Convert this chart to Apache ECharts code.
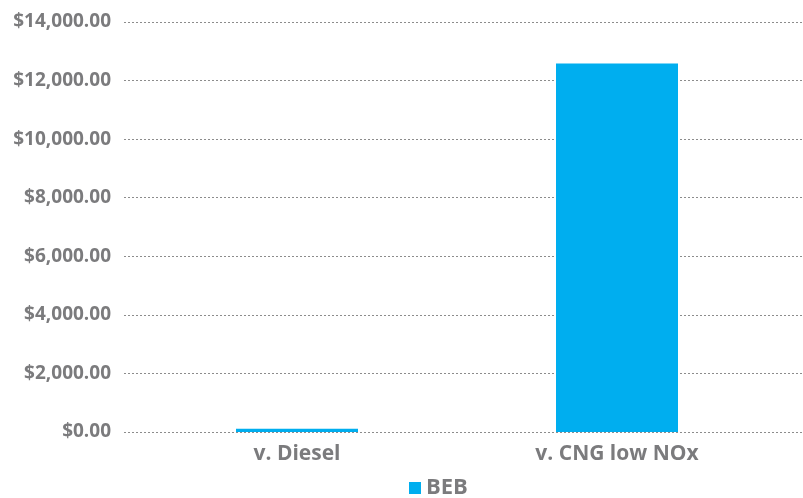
<!DOCTYPE html>
<html>
<head>
<meta charset="utf-8">
<script src="https://cdn.jsdelivr.net/npm/echarts@6/dist/echarts.min.js"></script>
<style>
  html, body { margin: 0; padding: 0; background: #fff; }
  #chart { width: 803px; height: 498px; }
</style>
</head>
<body>
<div id="chart"></div>
<script>
// Cost difference per bus, battery-electric bus (BEB) against two baselines
const categories = ['v. Diesel', 'v. CNG low NOx'];
const bebValues = [110, 12580];
const seriesName = 'BEB';
const yMin = 0;
const yMax = 14000;
const yInterval = 2000;

const textGray = '#7b7b7d';
const barBlue = '#00aeef';
const fontFamily = '"Open Sans", Lato, sans-serif';

const chart = echarts.init(document.getElementById('chart'));

chart.setOption({
  animation: false,
  backgroundColor: '#fff',
  legend: {
    data: [seriesName],
    top: 472,
    left: 404,
    itemWidth: 12,
    itemHeight: 12,
    itemGap: 8,
    icon: 'rect',
    textStyle: { color: textGray, fontSize: 22, fontWeight: 'bold', fontFamily: fontFamily }
  },
  grid: [
    // value scale with dotted gridlines across the full width
    { left: 124, right: 1, top: 22, bottom: 66 },
    // bar area
    { left: 137, right: 26, top: 22, bottom: 66 }
  ],
  xAxis: [
    { gridIndex: 0, type: 'category', data: categories, show: false },
    {
      gridIndex: 1,
      type: 'category',
      data: categories,
      axisLine: { show: false },
      axisTick: { show: false },
      axisLabel: {
        color: textGray,
        fontSize: 21,
        fontWeight: 'bold',
        fontFamily: fontFamily,
        margin: 12
      }
    }
  ],
  yAxis: [
    {
      gridIndex: 0,
      type: 'value',
      min: yMin,
      max: yMax,
      interval: yInterval,
      axisLine: { show: false },
      axisTick: { show: false },
      axisLabel: {
        color: textGray,
        fontSize: 19,
        fontWeight: 'bold',
        fontFamily: fontFamily,
        margin: 13,
        formatter: v => '$' + v.toLocaleString('en-US', { minimumFractionDigits: 2, maximumFractionDigits: 2 })
      },
      splitLine: { lineStyle: { color: '#8c8c8c', type: [2, 2], width: 1 } }
    },
    {
      gridIndex: 1,
      type: 'value',
      min: yMin,
      max: yMax,
      interval: yInterval,
      show: false,
      splitLine: { show: false }
    }
  ],
  series: [
    {
      name: seriesName,
      type: 'bar',
      xAxisIndex: 1,
      yAxisIndex: 1,
      data: bebValues,
      barWidth: 122,
      itemStyle: { color: barBlue }
    }
  ]
});
</script>
</body>
</html>
